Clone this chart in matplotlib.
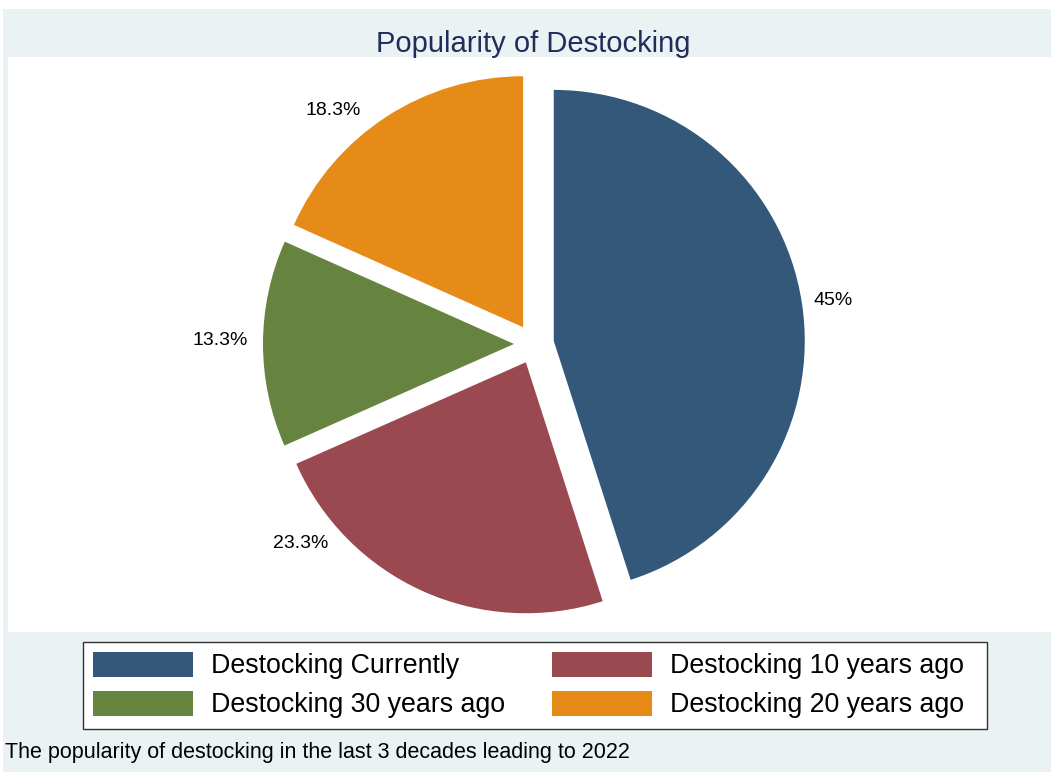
import matplotlib
matplotlib.use("Agg")
import matplotlib.pyplot as plt
from matplotlib.patches import Rectangle
import numpy as np

plt.rcParams['font.family'] = ['Liberation Sans', 'DejaVu Sans']

categories = ["Destocking Currently", "Destocking 10 years ago",
              "Destocking 30 years ago", "Destocking 20 years ago"]
values = [45.0, 23.3, 13.3, 18.3]
pct_labels = ["45%", "23.3%", "13.3%", "18.3%"]
colors = ["#335879", "#9a4950", "#66843f", "#e68b18"]

W, H = 1051, 772
fig = plt.figure(figsize=(W / 100, H / 100), dpi=100, facecolor="white")

# outer background (Stata bluishgray)
fig.patches.append(Rectangle((3 / W, 0), 1 - 3 / W, 1 - 9 / H,
                             transform=fig.transFigure, facecolor="#eaf2f3",
                             edgecolor="none", zorder=-10))

# legend frame box
lx0, lx1, ly0, ly1 = 83, 987, 642, 729
fig.patches.append(Rectangle((lx0 / W, 1 - ly1 / H), (lx1 - lx0) / W,
                             (ly1 - ly0) / H, transform=fig.transFigure,
                             facecolor="white", edgecolor="#333333",
                             linewidth=1.0, zorder=-9))

# plot region (white), axes data units == pixels
px0, px1, py0, py1 = 8, 1051, 57, 632
ax = fig.add_axes([px0 / W, 1 - py1 / H, (px1 - px0) / W, (py1 - py0) / H])

cx, cy, r = 534 - px0, py1 - 344, 251
wedges, _ = ax.pie(values, colors=colors, startangle=90, counterclock=False,
                   radius=r, center=(cx, cy), explode=[20] * 4,
                   wedgeprops=dict(linewidth=0), frame=True)
ax.set_xlim(0, px1 - px0)
ax.set_ylim(0, py1 - py0)
ax.set_aspect("auto")
ax.axis("off")
ax.add_patch(Rectangle((0, 0), px1 - px0, py1 - py0, facecolor="white",
                       edgecolor="none", zorder=-5))

# label placement (angles in degrees, distance from pie center)
label_angles = [8.2, 220.6, 179.3, 130.7]
label_dists = [302, 307, 314, 308]
for txt, ang, d in zip(pct_labels, label_angles, label_dists):
    a = np.deg2rad(ang)
    ax.text(cx + d * np.cos(a), cy + d * np.sin(a), txt,
            ha="center", va="center", fontsize=14, color="black")

fig.text(533 / W, 1 - 52 / H, "Popularity of Destocking", ha="center",
         va="baseline", fontsize=21, color="#1e2d5a")

order = [0, 2, 1, 3]
leg = fig.legend([wedges[i] for i in order], [categories[i] for i in order],
                 ncol=2, loc="upper left", bbox_to_anchor=(83 / W, 1 - 642 / H),
                 fontsize=19.3, frameon=False,
                 handlelength=3.73, handleheight=1.05, handletextpad=0.67,
                 columnspacing=1.75, labelspacing=0.42, borderpad=0.37,
                 borderaxespad=0)

fig.text(5 / W, 1 - 758 / H,
         "The popularity of destocking in the last 3 decades leading to 2022",
         ha="left", va="baseline", fontsize=15.5, color="black")

fig.savefig("out.png", dpi=100, facecolor="white")
